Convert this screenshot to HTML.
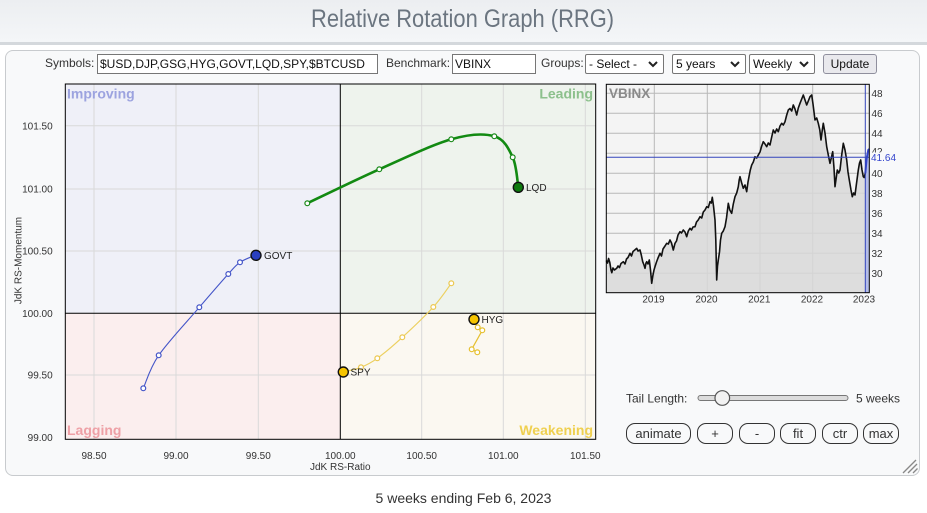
<!DOCTYPE html>
<html><head><meta charset="utf-8"><style>
*{margin:0;padding:0;box-sizing:border-box}
body{width:927px;height:513px;background:#fff;font-family:"Liberation Sans",Arial,sans-serif;color:#333;position:relative;overflow:hidden}
#hdr{position:absolute;left:0;top:0;width:927px;height:42px;background:linear-gradient(#eceef1,#f4f6f8)}
#hdrline{position:absolute;left:0;top:42px;width:927px;height:3px;background:#d4d8dc}
#title{position:absolute;left:311px;top:4px;font-size:25px;color:#6b7580;white-space:nowrap;transform:scaleX(0.876);transform-origin:0 0;line-height:30px}
#panel{position:absolute;left:5px;top:50px;width:915px;height:426px;background:#f8f9fa;border:1px solid #c8cbce;border-radius:8px}
.lbl{position:absolute;font-size:12px;line-height:20px;white-space:nowrap;color:#333}
.box{position:absolute;height:20px;background:#fff;border:1px solid #767676;font-size:12px;line-height:18px;padding-left:2px;white-space:nowrap;overflow:hidden;color:#111}
.sel{position:absolute;height:20px;background:#fff;border:1px solid #767676;border-radius:2px;font-size:12px;line-height:18px;padding-left:3px;white-space:nowrap;color:#111}
.sel svg{position:absolute;right:5px;top:6px}
.btn{position:absolute;height:21px;border:1px solid #333;border-radius:9px;font-size:13px;line-height:19px;text-align:center;color:#333}
#cap{position:absolute;left:0;width:927px;top:489px;text-align:center;font-size:14px;line-height:18px;color:#333}
svg#main{position:absolute;left:0;top:0}
</style></head><body>
<div id="hdr"></div><div id="hdrline"></div>
<div id="title">Relative Rotation Graph (RRG)</div>
<div id="panel"></div>

<div class="lbl" style="left:45px;top:53px">Symbols:</div>
<div class="box" style="left:97px;top:54px;width:281px">$USD,DJP,GSG,HYG,GOVT,LQD,SPY,$BTCUSD</div>
<div class="lbl" style="left:386px;top:53px">Benchmark:</div>
<div class="box" style="left:452px;top:54px;width:84px">VBINX</div>
<div class="lbl" style="left:541px;top:53px">Groups:</div>
<div class="sel" style="left:585px;top:54px;width:79px">- Select -<svg width="10" height="7"><path d="M1 1L5 5L9 1" stroke="#222" stroke-width="2" fill="none"/></svg></div>
<div class="sel" style="left:672px;top:54px;width:74px">5 years<svg width="10" height="7"><path d="M1 1L5 5L9 1" stroke="#222" stroke-width="2" fill="none"/></svg></div>
<div class="sel" style="left:749px;top:54px;width:66px">Weekly<svg width="10" height="7"><path d="M1 1L5 5L9 1" stroke="#222" stroke-width="2" fill="none"/></svg></div>
<div class="sel" style="left:823px;top:54px;width:54px;background:#e9e9ed;border-color:#8f8f9d;border-radius:3px;text-align:center;padding:0">Update</div>

<svg id="main" width="927" height="513" viewBox="0 0 927 513" font-family="Liberation Sans, Arial, sans-serif">
<!-- quadrants -->
<rect x="65.3" y="84" width="275" height="229.3" fill="#eff0f8"/>
<rect x="340.3" y="84" width="255.4" height="229.3" fill="#eef3ed"/>
<rect x="65.3" y="313.3" width="275" height="126" fill="#fbeeee"/>
<rect x="340.3" y="313.3" width="255.4" height="126" fill="#fbf8f1"/>
<g stroke="#d9d9d9" stroke-width="1">
<line x1="94" y1="84" x2="94" y2="439.3"/><line x1="176" y1="84" x2="176" y2="439.3"/><line x1="258.3" y1="84" x2="258.3" y2="439.3"/>
<line x1="421.7" y1="84" x2="421.7" y2="439.3"/><line x1="503.3" y1="84" x2="503.3" y2="439.3"/><line x1="585.3" y1="84" x2="585.3" y2="439.3"/>
<line x1="65.3" y1="125.7" x2="595.7" y2="125.7"/><line x1="65.3" y1="189" x2="595.7" y2="189"/><line x1="65.3" y1="251" x2="595.7" y2="251"/><line x1="65.3" y1="375" x2="595.7" y2="375"/>
</g>
<line x1="340.3" y1="84" x2="340.3" y2="439.3" stroke="#000"/>
<line x1="65.3" y1="313.3" x2="595.7" y2="313.3" stroke="#000"/>
<rect x="65.3" y="84" width="530.4" height="355.3" fill="none" stroke="#000"/>
<g font-weight="bold" font-size="14">
<text x="67" y="98.5" fill="#9ca3df">Improving</text>
<text x="593" y="98.5" fill="#8cc08c" text-anchor="end">Leading</text>
<text x="67" y="435" fill="#eea0a6">Lagging</text>
<text x="593" y="435" fill="#efd050" text-anchor="end">Weakening</text>
</g>
<g font-size="10" fill="#333" text-anchor="end">
<text x="52.7" y="129.3">101.50</text><text x="52.7" y="192.6">101.00</text><text x="52.7" y="254.6">100.50</text>
<text x="52.7" y="316.9">100.00</text><text x="52.7" y="378.6">99.50</text><text x="52.7" y="441">99.00</text>
</g>
<g font-size="10" fill="#333" text-anchor="middle">
<text x="94" y="459">98.50</text><text x="176" y="459">99.00</text><text x="258.3" y="459">99.50</text><text x="340.3" y="459">100.00</text>
<text x="421.7" y="459">100.50</text><text x="503.3" y="459">101.00</text><text x="585.3" y="459">101.50</text>
<text x="340.3" y="470">JdK RS-Ratio</text>
<text transform="translate(21.5,260.5) rotate(-90)" x="0" y="0">JdK RS-Momentum</text>
</g>

<!-- GOVT -->
<path d="M143.3,388.3 C145.9,382.8 149.4,368.8 158.7,355.3 C168,341.8 187.7,320.9 199.3,307.3 C210.9,293.8 221.5,281.5 228.3,274 C235.1,266.5 235.4,265.5 240,262.3 C244.6,259.1 253.3,256.2 256,255" fill="none" stroke="#4455c8" stroke-width="1.1"/>
<g fill="#fff" stroke="#4455c8" stroke-width="1.2">
<circle cx="143.3" cy="388.3" r="2.4"/><circle cx="158.7" cy="355.3" r="2.4"/><circle cx="199.3" cy="307.3" r="2.4"/><circle cx="228.3" cy="274" r="2.4"/><circle cx="240" cy="262.3" r="2.4"/>
</g>
<circle cx="256" cy="255.3" r="5" fill="#2a3fbf" stroke="#111" stroke-width="1.4"/>
<text x="264" y="258.8" font-size="10" fill="#222">GOVT</text>

<!-- SPY -->
<path d="M451.3,283.3 C448.3,287.3 441.5,298 433.3,307 C425.1,316 411.6,328.8 402.3,337.3 C393,345.9 384.2,353.3 377.3,358.3 C370.4,363.3 366.7,365 361,367.3 C355.3,369.6 346.3,371.2 343.3,372" fill="none" stroke="#ecd060" stroke-width="1.2"/>
<g fill="#fff" stroke="#ecc850" stroke-width="1.2">
<circle cx="451.3" cy="283.3" r="2.4"/><circle cx="433.3" cy="307" r="2.4"/><circle cx="402.3" cy="337.3" r="2.4"/><circle cx="377.3" cy="358.3" r="2.4"/><circle cx="361" cy="367.3" r="2.4"/>
</g>
<circle cx="343.3" cy="372" r="5" fill="#f5c400" stroke="#111" stroke-width="1.4"/>
<text x="350.5" y="375.5" font-size="10" fill="#222">SPY</text>

<!-- HYG -->
<path d="M477.3,352.3 L471.7,349.3 L482.3,330.3 L477.7,327.3 L474,319.3" fill="none" stroke="#e6c030" stroke-width="1.2"/>
<g fill="#fff" stroke="#e6c030" stroke-width="1.2">
<circle cx="477.3" cy="352.3" r="2.4"/><circle cx="471.7" cy="349.3" r="2.4"/><circle cx="482.3" cy="330.3" r="2.4"/><circle cx="477.7" cy="327.3" r="2.4"/>
</g>
<circle cx="474" cy="319.3" r="5" fill="#f5c400" stroke="#111" stroke-width="1.4"/>
<text x="481.5" y="322.8" font-size="10" fill="#222">HYG</text>

<!-- LQD -->
<path d="M307.3,203.3 C319.3,197.6 355.3,180 379.3,169.3 C403.3,158.6 432.1,144.8 451.3,139.3 C470.5,133.8 484.1,133.3 494.3,136.3 C504.5,139.3 508.7,148.8 512.7,157.3 C516.7,165.8 517.4,182.3 518.3,187.3" fill="none" stroke="#128a12" stroke-width="2.6"/>
<g fill="#fff" stroke="#1a8a1a" stroke-width="1.2">
<circle cx="307.3" cy="203.3" r="2.4"/><circle cx="379.3" cy="169.3" r="2.4"/><circle cx="451.3" cy="139.3" r="2.4"/><circle cx="494.3" cy="136.3" r="2.4"/><circle cx="512.7" cy="157.3" r="2.4"/>
</g>
<circle cx="518.3" cy="187.3" r="5" fill="#0d7a0d" stroke="#111" stroke-width="1.4"/>
<text x="526" y="190.8" font-size="10" fill="#222">LQD</text>

<!-- mini chart -->
<rect x="606.3" y="84.3" width="263" height="208.4" fill="#f4f4f4"/>
<g stroke="#b8b8b8" stroke-width="1">
<line x1="654.3" y1="84.3" x2="654.3" y2="292.7"/><line x1="707.3" y1="84.3" x2="707.3" y2="292.7"/><line x1="760" y1="84.3" x2="760" y2="292.7"/><line x1="812.7" y1="84.3" x2="812.7" y2="292.7"/>
<line x1="606.3" y1="93.3" x2="869.3" y2="93.3"/><line x1="606.3" y1="113.3" x2="869.3" y2="113.3"/><line x1="606.3" y1="133.3" x2="869.3" y2="133.3"/><line x1="606.3" y1="153.3" x2="869.3" y2="153.3"/>
<line x1="606.3" y1="173.3" x2="869.3" y2="173.3"/><line x1="606.3" y1="193.3" x2="869.3" y2="193.3"/><line x1="606.3" y1="213.3" x2="869.3" y2="213.3"/><line x1="606.3" y1="233.3" x2="869.3" y2="233.3"/>
<line x1="606.3" y1="253.3" x2="869.3" y2="253.3"/><line x1="606.3" y1="273.3" x2="869.3" y2="273.3"/>
</g>
<text x="609" y="98" font-size="13.5" font-weight="bold" fill="#8a8a8a">VBINX</text>
<polygon fill="#d8d8d8" fill-opacity="0.85" points="606.3,292.7 606.3,260.5 607.5,263 608.6,258.5 609.8,262.5 611,270 611.8,272.7 613,268 614.5,270 616.7,268.3 618,266 619.5,267.5 621,263.5 623.3,261.7 625,264 626.5,259 628,257.5 630,253.3 631.5,256 633,251.5 634.8,250 636.7,248.3 638,251 640,250 641.3,255 642.7,261.7 644,265 645,268.3 646,263 646.7,261.7 648,264 649.3,260 650.5,270 651.7,283.3 652.8,276 654,270 655,266.7 656.5,262 658,258 660,253.3 661.5,256 663,249 665,246 666.7,243.3 668.3,244 670,240 671.5,243 673.3,250 675,243.3 676.5,241 678,235 680,231.7 681.5,233 683.3,230 685,232 686.7,236.7 688.3,231 690,228.3 691.5,230 693,227 695,226.7 696.5,222 698.2,220 700,216.7 701.7,218 703.3,212 705,210 706.7,206.7 708.3,207.5 710,201.7 711.3,203 712.3,197.3 713.5,206 715,220 715.8,240 716.7,280 717.5,266 718.3,260 719.5,252 720.5,240 721.7,233.3 723.3,231 725,226.7 726.5,218 728.3,203.3 729.8,210 731.7,213.3 733.3,204 735,196.7 736.7,193 738.3,186.7 739.2,180 740,176.7 741.7,183 743.3,188.3 745,185 746.7,191.7 748,182 749,176.7 750.3,170 751.7,165 753.3,162 755,156.7 756.7,158 758.3,155 760,152 761.7,146 763.3,141.7 765,144 766.7,146.7 768.3,143 770,145 771.7,137 773.3,130 775,133 776.7,129 778.3,131.7 780,126 781.7,123.3 783.3,125 785,121.7 786.7,115 788.3,110 790,108.5 791.7,111 793.3,105 795,109 796.7,115 798.3,108 800,103.3 801.7,99 803.3,95 805,100 806.7,105 808.3,101 810,96.7 811.7,95 813,104 815,120 816.7,118 818.3,123.3 819.8,130 821,140 822.3,130 823.3,123.3 825,133 826.7,146.7 828.3,155 830,163.3 831.5,157 832.7,151.7 834,168 835,186.7 836.2,178 837.3,170 838.7,173 840,170 841.7,155 843.3,143.3 845,150 846.7,160 848,172 849.3,180 851,190 852.3,196.7 853.7,193 855,195 856.7,182 858.3,170 859.5,163 860.7,160 862,170 863.3,176.7 864.2,177.5 865.3,173.3 865.3,292.7"/>
<polygon fill="#b4bde8" points="865.3,173.3 866.7,158.3 868.3,150 869.3,149 869.3,292.7 865.3,292.7"/>
<polyline fill="none" stroke="#111" stroke-width="1.6" stroke-linejoin="round" points="606.3,260.5 607.5,263 608.6,258.5 609.8,262.5 611,270 611.8,272.7 613,268 614.5,270 616.7,268.3 618,266 619.5,267.5 621,263.5 623.3,261.7 625,264 626.5,259 628,257.5 630,253.3 631.5,256 633,251.5 634.8,250 636.7,248.3 638,251 640,250 641.3,255 642.7,261.7 644,265 645,268.3 646,263 646.7,261.7 648,264 649.3,260 650.5,270 651.7,283.3 652.8,276 654,270 655,266.7 656.5,262 658,258 660,253.3 661.5,256 663,249 665,246 666.7,243.3 668.3,244 670,240 671.5,243 673.3,250 675,243.3 676.5,241 678,235 680,231.7 681.5,233 683.3,230 685,232 686.7,236.7 688.3,231 690,228.3 691.5,230 693,227 695,226.7 696.5,222 698.2,220 700,216.7 701.7,218 703.3,212 705,210 706.7,206.7 708.3,207.5 710,201.7 711.3,203 712.3,197.3 713.5,206 715,220 715.8,240 716.7,280 717.5,266 718.3,260 719.5,252 720.5,240 721.7,233.3 723.3,231 725,226.7 726.5,218 728.3,203.3 729.8,210 731.7,213.3 733.3,204 735,196.7 736.7,193 738.3,186.7 739.2,180 740,176.7 741.7,183 743.3,188.3 745,185 746.7,191.7 748,182 749,176.7 750.3,170 751.7,165 753.3,162 755,156.7 756.7,158 758.3,155 760,152 761.7,146 763.3,141.7 765,144 766.7,146.7 768.3,143 770,145 771.7,137 773.3,130 775,133 776.7,129 778.3,131.7 780,126 781.7,123.3 783.3,125 785,121.7 786.7,115 788.3,110 790,108.5 791.7,111 793.3,105 795,109 796.7,115 798.3,108 800,103.3 801.7,99 803.3,95 805,100 806.7,105 808.3,101 810,96.7 811.7,95 813,104 815,120 816.7,118 818.3,123.3 819.8,130 821,140 822.3,130 823.3,123.3 825,133 826.7,146.7 828.3,155 830,163.3 831.5,157 832.7,151.7 834,168 835,186.7 836.2,178 837.3,170 838.7,173 840,170 841.7,155 843.3,143.3 845,150 846.7,160 848,172 849.3,180 851,190 852.3,196.7 853.7,193 855,195 856.7,182 858.3,170 859.5,163 860.7,160 862,170 863.3,176.7 864.2,177.5 865.3,173.3"/>
<polyline fill="none" stroke="#3344cc" stroke-width="2" points="865.3,173.3 866.7,158.3 868.3,150 869.3,149"/>
<line x1="606.3" y1="157.3" x2="869.3" y2="157.3" stroke="#3344bb" stroke-width="1"/>
<line x1="865.3" y1="84.3" x2="865.3" y2="292.7" stroke="#3344bb" stroke-width="1"/>
<rect x="606.3" y="84.3" width="263" height="208.4" fill="none" stroke="#000" stroke-width="1"/>
<g font-size="10" fill="#333">
<text x="871.5" y="96.8">48</text><text x="871.5" y="116.8">46</text><text x="871.5" y="136.8">44</text><text x="871.5" y="155">42</text>
<text x="871.5" y="176.8">40</text><text x="871.5" y="196.8">38</text><text x="871.5" y="216.8">36</text><text x="871.5" y="236.8">34</text>
<text x="871.5" y="256.8">32</text><text x="871.5" y="276.8">30</text>
</g>
<rect x="870.5" y="152.5" width="30" height="10" fill="#f8f9fa"/>
<text x="871" y="161" font-size="10" fill="#3344cc">41.64</text>
<g font-size="10" fill="#333" text-anchor="middle">
<text x="653.5" y="302.5">2019</text><text x="706.5" y="302.5">2020</text><text x="759.3" y="302.5">2021</text><text x="812" y="302.5">2022</text><text x="864" y="302.5">2023</text>
</g>

<!-- slider -->
<text x="626" y="402.5" font-size="12" fill="#333">Tail Length:</text>
<rect x="698" y="395.5" width="150" height="5" rx="2.5" fill="#dcdcdc" stroke="#777" stroke-width="1"/>
<circle cx="722.3" cy="398" r="7.3" fill="#f2f2f2" stroke="#555" stroke-width="1.2"/>
<text x="856" y="402.5" font-size="12" fill="#333">5 weeks</text>
<!-- grip -->
<g stroke="#888" stroke-width="1.3">
<line x1="903" y1="473" x2="916" y2="460"/><line x1="908" y1="473" x2="917" y2="464"/><line x1="913" y1="473" x2="917.5" y2="468.5"/>
</g>
</svg>

<div class="btn" style="left:626px;top:423px;width:65px">animate</div>
<div class="btn" style="left:697px;top:423px;width:36px">+</div>
<div class="btn" style="left:739px;top:423px;width:36px">-</div>
<div class="btn" style="left:780px;top:423px;width:36px">fit</div>
<div class="btn" style="left:822px;top:423px;width:36px">ctr</div>
<div class="btn" style="left:863px;top:423px;width:36px">max</div>

<div id="cap">5 weeks ending Feb 6, 2023</div>
</body></html>
